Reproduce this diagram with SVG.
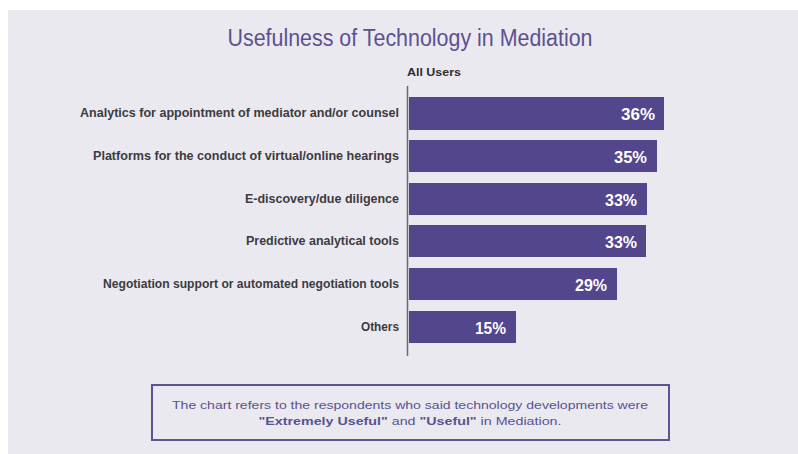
<svg xmlns="http://www.w3.org/2000/svg" width="798" height="454" viewBox="0 0 798 454">
<style>
.bg{fill:#ebe9f0}
.bar{fill:#53468d}
.lbl{font-family:"Liberation Sans",Arial,sans-serif;font-size:12px;font-weight:bold;fill:#3c3b40;text-anchor:end;dominant-baseline:central}
.pct{font-family:"Liberation Sans",Arial,sans-serif;font-size:16px;font-weight:bold;fill:#ffffff;text-anchor:end;dominant-baseline:central}
.title{font-family:"Liberation Sans",Arial,sans-serif;font-size:23px;fill:#5b5192;text-anchor:middle}
.note{font-family:"Liberation Sans",Arial,sans-serif;font-size:11.5px;fill:#575292;text-anchor:middle}
</style>
<rect class="bg" x="8" y="10" width="790" height="444"/>
<text class="title" x="410" y="46" textLength="365" lengthAdjust="spacingAndGlyphs">Usefulness of Technology in Mediation</text>
<text x="407" y="76" font-family="Liberation Sans, Arial, sans-serif" font-size="11" font-weight="bold" fill="#2e2d33" textLength="54" lengthAdjust="spacingAndGlyphs">All Users</text>
<g id="connectors">
<line x1="407.5" y1="86" x2="407.5" y2="356" stroke="#6b6a72" stroke-width="1.5"/>
</g>
<g id="bar1">
<rect class="bar" x="409" y="97" width="255" height="33"/>
<text class="lbl" x="399" y="113" textLength="319" lengthAdjust="spacingAndGlyphs">Analytics for appointment of mediator and/or counsel</text>
<text class="pct" x="655" y="114" textLength="34" lengthAdjust="spacingAndGlyphs">36%</text>
</g>
<g id="bar2">
<rect class="bar" x="409" y="140" width="248" height="32"/>
<text class="lbl" x="399" y="156" textLength="306" lengthAdjust="spacingAndGlyphs">Platforms for the conduct of virtual/online hearings</text>
<text class="pct" x="647" y="157" textLength="33" lengthAdjust="spacingAndGlyphs">35%</text>
</g>
<g id="bar3">
<rect class="bar" x="409" y="183" width="238" height="32"/>
<text class="lbl" x="399" y="199" textLength="154" lengthAdjust="spacingAndGlyphs">E-discovery/due diligence</text>
<text class="pct" x="637" y="200" textLength="32" lengthAdjust="spacingAndGlyphs">33%</text>
</g>
<g id="bar4">
<rect class="bar" x="409" y="225" width="237" height="32"/>
<text class="lbl" x="399" y="241" textLength="153" lengthAdjust="spacingAndGlyphs">Predictive analytical tools</text>
<text class="pct" x="637" y="242" textLength="32" lengthAdjust="spacingAndGlyphs">33%</text>
</g>
<g id="bar5">
<rect class="bar" x="409" y="268" width="208" height="32"/>
<text class="lbl" x="399" y="284" textLength="296" lengthAdjust="spacingAndGlyphs">Negotiation support or automated negotiation tools</text>
<text class="pct" x="607" y="285" textLength="32" lengthAdjust="spacingAndGlyphs">29%</text>
</g>
<g id="bar6">
<rect class="bar" x="409" y="311" width="107" height="32"/>
<text class="lbl" x="399" y="327" textLength="38" lengthAdjust="spacingAndGlyphs">Others</text>
<text class="pct" x="506" y="328" textLength="31" lengthAdjust="spacingAndGlyphs">15%</text>
</g>
<g id="note">
<rect x="152" y="385" width="517" height="55" fill="#ebe9f0" stroke="#5d5294" stroke-width="2"/>
<text class="note" x="410" y="409" textLength="476" lengthAdjust="spacingAndGlyphs">The chart refers to the respondents who said technology developments were</text>
<text class="note" x="410" y="425" textLength="303" lengthAdjust="spacingAndGlyphs"><tspan font-weight="bold">"Extremely Useful"</tspan> and <tspan font-weight="bold">"Useful"</tspan> in Mediation.</text>
</g>
</svg>
